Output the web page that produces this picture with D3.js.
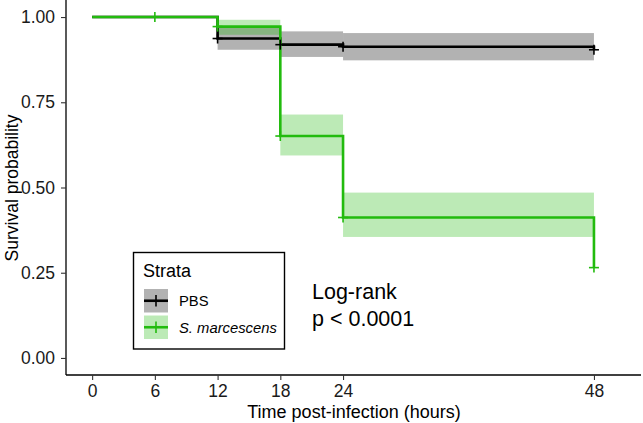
<!DOCTYPE html>
<html><head><meta charset="utf-8">
<script src="https://cdn.jsdelivr.net/npm/d3@7"></script>
<style>body{margin:0;background:#fff;} svg{display:block;font-family:"Liberation Sans",Arial,sans-serif;}</style>
</head><body>
<svg id="c" width="643" height="423"></svg>
<script>
// Data
const xTicks = [0, 6, 12, 18, 24, 48];
const yTicks = [0, 0.25, 0.5, 0.75, 1.0];
const yTickLabels = ["0.00", "0.25", "0.50", "0.75", "1.00"];
const strata = ["PBS", "S. marcescens"];
const colors = ["#000000", "#22BB0E"];

const pbsTime  = [0, 12, 18, 24, 48];
const pbsSurv  = [1, 0.937, 0.919, 0.913, 0.904];
const pbsLower = [1, 0.904, 0.883, 0.873, 0.873];
const pbsUpper = [1, 0.968, 0.958, 0.953, 0.953];
const pbsCensor = [12, 18, 24, 48];

const smTime  = [0, 12, 18, 24, 48];
const smSurv  = [1, 0.972, 0.651, 0.412, 0.265];
const smLower = [1, 0.948, 0.594, 0.355, 0.355];
const smUpper = [1, 0.992, 0.714, 0.485, 0.485];
const smCensor = [6, 12, 18, 24, 48];

const series = [
  {name: strata[0], time: pbsTime, surv: pbsSurv, lower: pbsLower, upper: pbsUpper, censor: pbsCensor, color: colors[0], fill: "#000000"},
  {name: strata[1], time: smTime, surv: smSurv, lower: smLower, upper: smUpper, censor: smCensor, color: colors[1], fill: colors[1]}
];

const svg = d3.select("#c");
const x = d3.scaleLinear().domain([-2.5, 52.5]).range([66, 641]);
const y = d3.scaleLinear().domain([-0.05, 1.05]).range([375, 0]);

function survAt(s, t) {
  let v = s.surv[0];
  for (let i = 0; i < s.time.length; i++) if (s.time[i] <= t) v = s.surv[i];
  return v;
}

// ribbons
series.forEach(s => {
  const pts = [];
  for (let i = 0; i < s.time.length - 1; i++) {
    pts.push({t0: s.time[i], t1: s.time[i+1], lo: s.lower[i], hi: s.upper[i]});
  }
  svg.append("g").selectAll("rect").data(pts.filter(d => d.hi > d.lo)).join("rect")
    .attr("x", d => x(d.t0)).attr("width", d => x(d.t1) - x(d.t0))
    .attr("y", d => y(d.hi)).attr("height", d => y(d.lo) - y(d.hi))
    .attr("fill", s.fill).attr("fill-opacity", 0.3);
});

// step lines
series.forEach(s => {
  const data = s.time.map((t, i) => [t, s.surv[i]]);
  const line = d3.line().x(d => x(d[0])).y(d => y(d[1])).curve(d3.curveStepAfter);
  svg.append("path").datum(data).attr("d", line)
    .attr("fill", "none").attr("stroke", s.color).attr("stroke-width", 2.6);
});

// censor marks
series.forEach(s => {
  const g = svg.append("g").attr("stroke", s.color).attr("stroke-width", 1.6);
  s.censor.forEach(t => {
    const cx = x(t), cy = y(survAt(s, t));
    g.append("line").attr("x1", cx - 5).attr("x2", cx + 5).attr("y1", cy).attr("y2", cy);
    g.append("line").attr("x1", cx).attr("x2", cx).attr("y1", cy - 5).attr("y2", cy + 5);
  });
});

// axes
const xAxis = d3.axisBottom(x).tickValues(xTicks).tickSize(5).tickPadding(5);
const gx = svg.append("g").attr("transform", "translate(0,375)").call(xAxis);
gx.select(".domain").attr("stroke", "#000").attr("stroke-width", 1.3).attr("d", "M66,0H641");
gx.selectAll(".tick line").attr("stroke", "#333").attr("stroke-width", 1.1);
gx.selectAll(".tick text").attr("font-size", 17.5).attr("fill", "#1a1a1a")
  .attr("font-family", "Liberation Sans, Arial, sans-serif");

const yAxis = d3.axisLeft(y).tickValues(yTicks).tickFormat((d, i) => yTickLabels[i]).tickSize(5).tickPadding(6);
const gy = svg.append("g").attr("transform", "translate(66,0)").call(yAxis);
gy.select(".domain").attr("stroke", "#000").attr("stroke-width", 1.3).attr("d", "M0,0V375");
gy.selectAll(".tick line").attr("stroke", "#333").attr("stroke-width", 1.1);
gy.selectAll(".tick text").attr("font-size", 17.5).attr("fill", "#1a1a1a")
  .attr("font-family", "Liberation Sans, Arial, sans-serif");

// axis titles
svg.append("text").attr("x", 354).attr("y", 418).attr("text-anchor", "middle")
  .attr("font-size", 18).attr("fill", "#000").text("Time post-infection (hours)");
svg.append("text").attr("transform", "translate(18,188) rotate(-90)").attr("text-anchor", "middle")
  .attr("font-size", 17.5).attr("fill", "#000").text("Survival probability");

// legend
const lg = svg.append("g");
lg.append("rect").attr("x", 133.5).attr("y", 252.5).attr("width", 151).attr("height", 96.5)
  .attr("fill", "#fff").attr("stroke", "#000").attr("stroke-width", 1.4);
lg.append("text").attr("x", 143).attr("y", 277).attr("font-size", 18).text("Strata");
series.forEach((s, i) => {
  const ky = 289 + i * 26.5;
  lg.append("rect").attr("x", 144).attr("y", ky).attr("width", 24).attr("height", 23.5)
    .attr("fill", s.fill).attr("fill-opacity", 0.3);
  lg.append("line").attr("x1", 144).attr("x2", 168).attr("y1", ky + 11.75).attr("y2", ky + 11.75)
    .attr("stroke", s.color).attr("stroke-width", 2.6);
  lg.append("line").attr("x1", 156).attr("x2", 156).attr("y1", ky + 6).attr("y2", ky + 17.5)
    .attr("stroke", s.color).attr("stroke-width", 1.6);
  lg.append("text").attr("x", 179).attr("y", ky + 17).attr("font-size", 14.8)
    .attr("font-style", i === 1 ? "italic" : "normal").text(s.name);
});

// log-rank annotation
svg.append("text").attr("x", 312).attr("y", 299).attr("font-size", 21.5).text("Log-rank");
svg.append("text").attr("x", 312).attr("y", 326).attr("font-size", 21.5).text("p < 0.0001");
</script>
</body></html>
